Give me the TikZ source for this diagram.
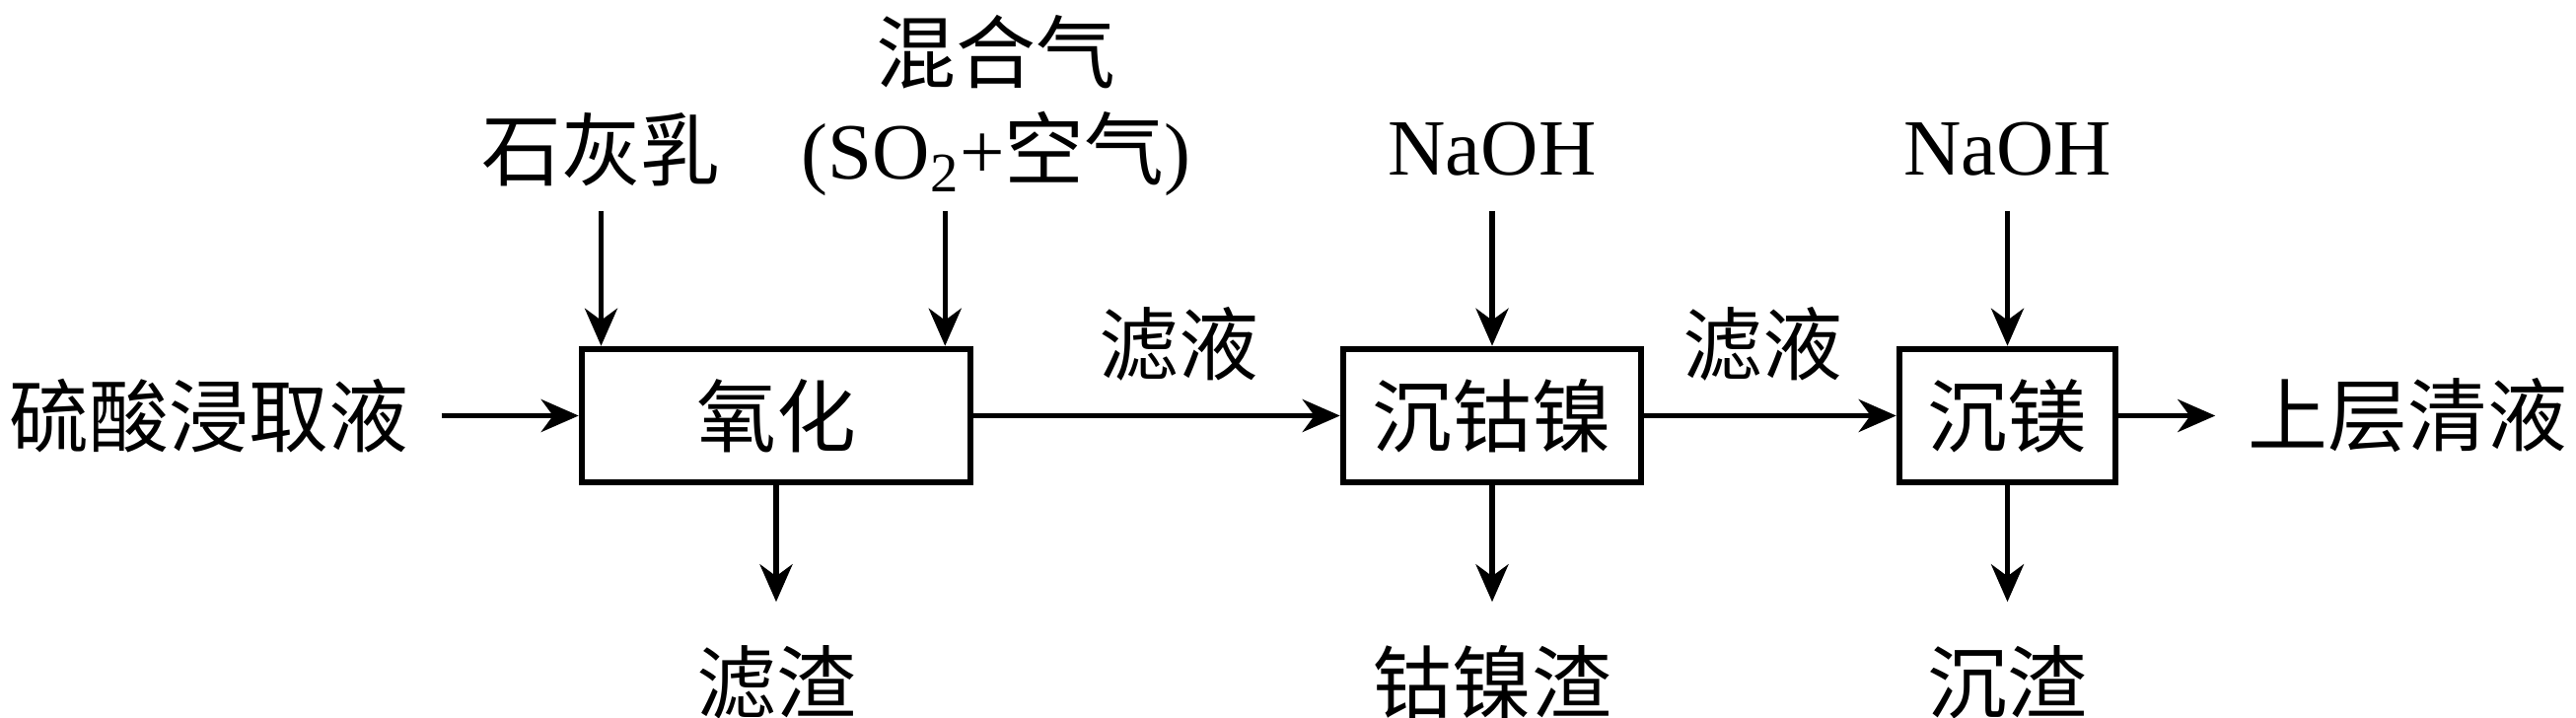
\documentclass[tikz,border=0pt]{standalone}
\usepackage{fontspec}
\setmainfont{Noto Sans CJK SC}
\newfontfamily\lat{Liberation Serif}
\usetikzlibrary{positioning,arrows.meta}

\begin{document}
\begin{tikzpicture}[proc node/.style={draw, line width=0.065cm, minimum width=#1, minimum height=1.35cm, inner sep=0pt},
  proc node/.default=3cm,
  label node/.style={inner sep=0pt},
  flow/.style={line width=0.055cm, -{Stealth[length=0.38cm, width=0.33cm, inset=0.12cm]}},
  node distance=2.7cm, font=\fontsize{23}{28}\selectfont]
  \useasboundingbox (0,0) rectangle (26.12,-7.28);

  \node[proc node=3.94cm] (ox) at (7.87,-4.215) {氧化};
  \node[proc node=3.02cm] (cn) at (15.13,-4.215) {沉钴镍};
  \node[proc node=2.19cm] (mg) at (20.355,-4.215) {沉镁};

  \node[label node] (feed) [left=1.72cm of ox] {硫酸浸取液};
  \node[label node] (lime) [above of=ox, xshift=-1.775cm] {石灰乳};
  \node[label node, align=center] (gas) [above of=ox, xshift=2.23cm, yshift=0.445cm] {混合气\\{\lat (SO\textsubscript{2}+}空气{\lat )}};
  \node[label node] (slag1) [below of=ox] {滤渣};

  \node[label node] (naoh1) [above of=cn] {\lat NaOH};
  \node[label node] (slag2) [below of=cn] {钴镍渣};

  \node[label node] (naoh2) [above of=mg] {\lat NaOH};
  \node[label node] (slag3) [below of=mg] {沉渣};
  \node[label node] (clear) [right=1.31cm of mg] {上层清液};

  \coordinate (limein) at (lime |- ox.north);
  \coordinate (gasin) at ([xshift=-0.29cm]ox.north east);

  \draw[flow] ([xshift=0.33cm]feed.east) -- (ox.west);
  \draw[flow] (ox.east) -- node[label node, above=0.32cm, pos=0.56] {滤液} (cn.west);
  \draw[flow] (cn.east) -- node[label node, above=0.32cm, pos=0.47] {滤液} (mg.west);
  \draw[flow] (mg.east) -- ([xshift=-0.33cm]clear.west);

  \draw[flow] ([yshift=1.37cm]limein) -- (limein);
  \draw[flow] ([yshift=1.37cm]gasin) -- (gasin);
  \draw[flow] ([yshift=1.37cm]cn.north) -- (cn.north);
  \draw[flow] ([yshift=1.37cm]mg.north) -- (mg.north);

  \draw[flow] (ox.south) -- ([yshift=-1.18cm]ox.south);
  \draw[flow] (cn.south) -- ([yshift=-1.18cm]cn.south);
  \draw[flow] (mg.south) -- ([yshift=-1.18cm]mg.south);
\end{tikzpicture}
\end{document}
